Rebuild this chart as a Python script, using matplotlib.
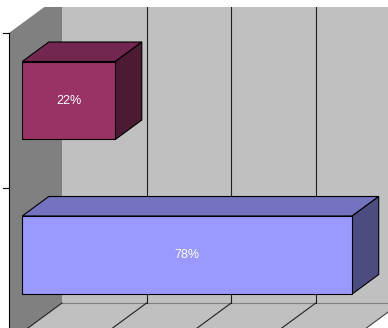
import matplotlib
matplotlib.use('Agg')
import matplotlib.pyplot as plt
from matplotlib.patches import Polygon
import numpy as np

# data
categories = ['A', 'B']
values = [22, 78]
labels = ['22%', '78%']
front_colors = ['#993366', '#9999FF']
top_colors = ['#732650', '#7373BF']
side_colors = ['#4C1A33', '#4C4C80']
grid_values = [0, 20, 40, 60, 80]

# 3D look: depth offset in data units (value units, category units)
DX, DY = 12.53, -0.2524
BAR_HALF = 0.2524
BAR_D0, BAR_D1 = 0.25, 0.75
VMAX = 80


def pt(v, c, d):
    return (v + DX * d, c + DY * d)


def poly(ax, pts, fc, ec='black', lw=0.8, z=1):
    ax.add_patch(Polygon(pts, closed=True, facecolor=fc, edgecolor=ec,
                         linewidth=lw, zorder=z, joinstyle='miter'))


fig = plt.figure(figsize=(3.88, 3.28), dpi=100)
# plot area starts 7 px below the top of the image
ax = fig.add_axes([0, 0, 1, (328 - 7) / 328])
ax.set_xlim(-9 / 4.23, (388 - 9) / 4.23)
ax.set_ylim((328 - 33) / 154.5, (7 - 33) / 154.5)
ax.axis('off')

n = len(categories)

# back wall
poly(ax, [pt(0, 0, 1), pt(VMAX, 0, 1), pt(VMAX, n, 1), pt(0, n, 1)],
     '#C0C0C0', ec='none', z=0)
# left wall
poly(ax, [pt(0, 0, 0), pt(0, 0, 1), pt(0, n, 1), pt(0, n, 0)],
     '#808080', ec='none', z=0)
# floor
poly(ax, [pt(0, n, 0), pt(0, n, 1), pt(VMAX, n, 1), pt(VMAX, n, 0)],
     '#C0C0C0', ec='none', z=0)
ax.plot(*zip(pt(VMAX, n, 1), pt(VMAX, n, 0)), color='#404040', lw=0.8, zorder=0.5)
ax.plot(*zip(pt(0, n, 1), pt(VMAX, n, 1)), color='#808080', lw=0.8, zorder=0.5)

# gridlines on back wall and floor
for g in grid_values[1:-1]:
    ax.plot(*zip(pt(g, 0, 1), pt(g, n, 1)), color='#202020', lw=0.8, zorder=0.5)
for g in grid_values[:-1]:
    ax.plot(*zip(pt(g, n, 1), pt(g, n, 0)), color='#202020', lw=0.8, zorder=0.5)

# category axis
ax.plot(*zip(pt(0, 0, 0), pt(0, n, 0)), color='black', lw=0.8, zorder=0.6)
for c in range(n + 1):
    x0, y0 = pt(0, c, 0)
    ax.plot([x0 - 1.5, x0], [y0, y0], color='black', lw=0.8, zorder=0.6)

# bars
for i, v in enumerate(values):
    c0, c1 = i + 0.5 - BAR_HALF, i + 0.5 + BAR_HALF
    # top face
    poly(ax, [pt(0, c0, BAR_D0), pt(v, c0, BAR_D0), pt(v, c0, BAR_D1), pt(0, c0, BAR_D1)],
         top_colors[i], z=2)
    # right side
    poly(ax, [pt(v, c0, BAR_D0), pt(v, c0, BAR_D1), pt(v, c1, BAR_D1), pt(v, c1, BAR_D0)],
         side_colors[i], z=2)
    # front
    poly(ax, [pt(0, c0, BAR_D0), pt(v, c0, BAR_D0), pt(v, c1, BAR_D0), pt(0, c1, BAR_D0)],
         front_colors[i], z=3)
    tx, ty = pt(v / 2, i + 0.5, BAR_D0)
    ax.text(tx, ty, labels[i], color='white', fontsize=9, ha='center', va='center',
            family=['Liberation Sans', 'DejaVu Sans'], zorder=4)

fig.savefig('out.png', dpi=100, facecolor='white')
